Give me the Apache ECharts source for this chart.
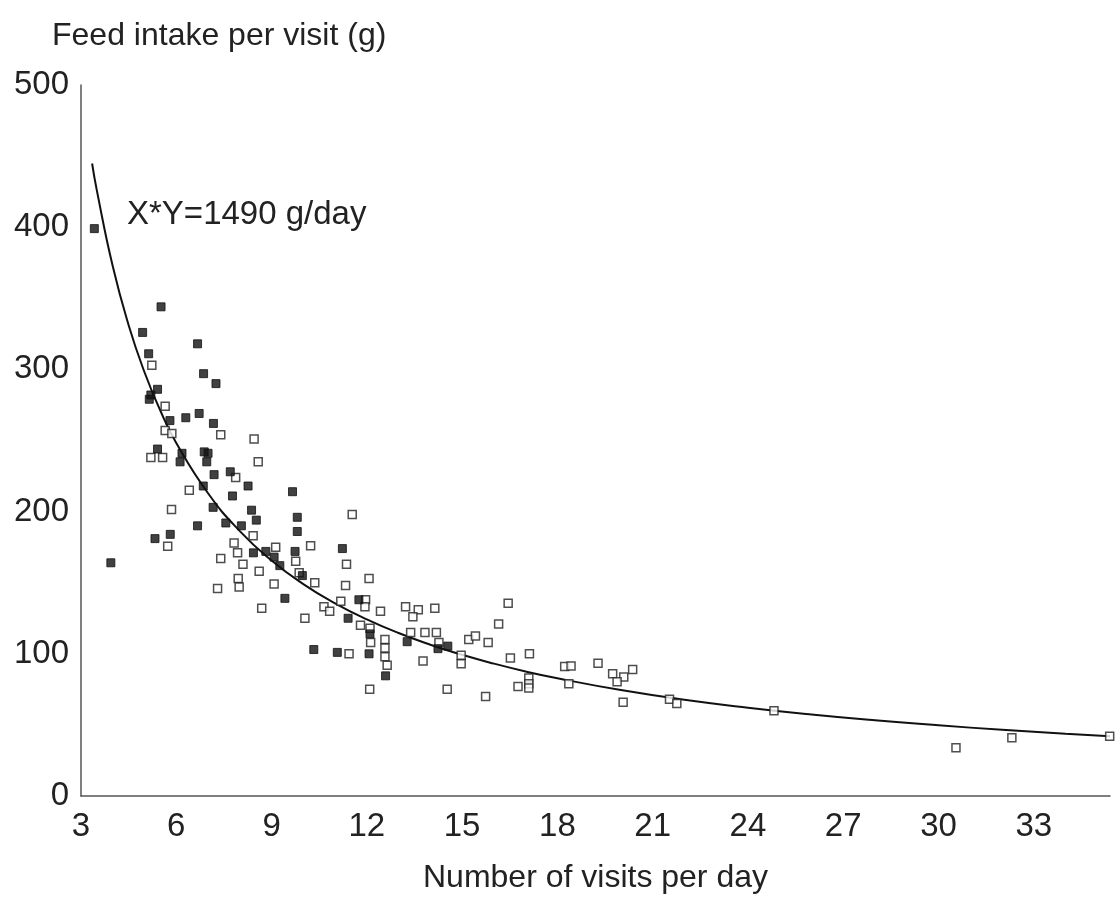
<!DOCTYPE html>
<html>
<head>
<meta charset="utf-8">
<script src="https://cdn.jsdelivr.net/npm/echarts/dist/echarts.min.js"></script>
<style>
html,body{margin:0;padding:0;background:#fff;}
#chart{width:1116px;height:917px;}
</style>
</head>
<body>
<div id="chart"></div>
<script>
// Filled squares
const filledX = [3.42,5.52,4.94,6.67,5.13,6.86,7.25,5.41,5.20,5.15,6.30,6.72,5.80,7.17,5.41,6.18,6.88,7.00,6.12,6.96,7.19,7.70,8.26,6.85,7.77,9.66,7.16,8.37,8.52,9.81,6.67,7.56,8.05,9.81,5.81,5.33,8.43,8.82,9.08,9.26,3.94,9.42,11.23,9.74,9.97,11.75,11.41,12.10,12.59,12.07,13.27,14.24,14.55,10.33,11.07];
const filledY = [399,344,326,318,311,297,290,286,282,279,266,269,264,262,244,241,242,241,235,235,226,228,218,218,211,214,203,201,194,196,190,192,190,186,184,181,171,172,168,162,164,139,174,172,155,138,125,114,84.5,100,108.5,103.6,105.4,103,101];
// Open squares
const openX = [5.23,5.65,5.65,5.86,7.40,8.45,5.20,5.57,8.58,7.87,6.41,5.85,8.42,5.73,7.82,7.93,9.13,9.76,7.40,8.10,8.61,9.87,7.95,7.98,9.08,7.30,11.54,10.23,11.36,10.36,11.33,12.07,8.69,10.65,10.83,11.18,11.96,11.94,12.43,13.22,13.62,14.14,10.05,13.45,16.45,16.15,11.80,12.10,12.12,12.57,12.57,12.57,12.64,11.44,12.09,13.38,13.83,14.19,14.27,13.77,14.53,15.21,15.42,15.82,14.97,14.97,15.74,16.52,17.12,17.10,17.10,17.10,16.76,18.23,18.43,18.36,19.28,19.74,20.09,19.88,20.37,20.07,21.53,21.76,24.82,30.55,32.31,35.39];
const openY = [303,274,257,255,254,251,238,238,235,224,215,201.5,183,175.6,178,171,175,165,167,163,158,157,153,147,149,146,198,176,163,150,148,153,132,133,130,137,138,133,130,133,131,132,125,126,135.5,121,120,118,108,110,104,98,92,100,75,115,115,115,108,95,75,110,112.5,108,99,93,70,97,100,83,79,76,77,91,91.4,79,93.4,86,83.6,80.4,89,66,68,65,60,34,41,42];
// Fitted curve X*Y = 1490 g/day
const curveX = [3.35,3.5,4,4.5,5,5.5,6,7,8,9,10,11,12,13,14,15,16,17,18,20,22,24,26,28,30,32,34,35.4];
const curveY = [444.8,425.7,372.5,331.1,298,270.9,248.3,212.9,186.3,165.6,149,135.5,124.2,114.6,106.4,99.3,93.1,87.6,82.8,74.5,67.7,62.1,57.3,53.2,49.7,46.6,43.8,42.1];
const xTicks = [3,6,9,12,15,18,21,24,27,30,33];
const yTicks = [0,100,200,300,400,500];

const zip = (a,b)=>a.map((v,i)=>[v,b[i]]);
const FONT = "'Liberation Sans', Arial, Helvetica, sans-serif";
const chart = echarts.init(document.getElementById('chart'), null, {renderer:'canvas'});
chart.setOption({
  animation:false,
  backgroundColor:'#fff',
  grid:{left:81,right:6,top:85,bottom:121},
  graphic:[
    {type:'text',left:52,top:20,style:{text:'Feed intake per visit (g)',font:'32px '+FONT,fill:'#222'}},
    {type:'text',left:127,top:198,style:{text:'X*Y=1490 g/day',font:'33px '+FONT,fill:'#222'}}
  ],
  xAxis:{
    type:'value',min:3,max:35.4,interval:3,
    name:'Number of visits per day',nameLocation:'middle',nameGap:66,
    nameTextStyle:{fontSize:32,fontFamily:FONT,color:'#222'},
    axisLine:{show:true,lineStyle:{color:'#555',width:1.5}},
    axisTick:{show:false},splitLine:{show:false},
    axisLabel:{fontSize:33,fontFamily:FONT,color:'#222',margin:14,
      formatter:v=>xTicks.includes(v)?String(v):''}
  },
  yAxis:{
    type:'value',min:0,max:500,interval:100,
    axisLine:{show:true,lineStyle:{color:'#555',width:1.5}},
    axisTick:{show:false},splitLine:{show:false},
    axisLabel:{fontSize:33,fontFamily:FONT,color:'#222',margin:12,
      formatter:v=>yTicks.includes(v)?String(v):''}
  },
  series:[
    {type:'line',data:zip(curveX,curveY),smooth:true,showSymbol:false,symbol:'none',
     lineStyle:{color:'#111',width:2},z:2},
    {type:'scatter',data:zip(openX,openY),symbol:'rect',symbolSize:8,clip:false,
     itemStyle:{color:'#fff',borderColor:'#222',borderWidth:1.5},z:3},
    {type:'scatter',data:zip(filledX,filledY),symbol:'rect',symbolSize:8,clip:false,
     itemStyle:{color:'#111',borderColor:'#111',borderWidth:1},z:4}
  ]
});
</script>
</body>
</html>
